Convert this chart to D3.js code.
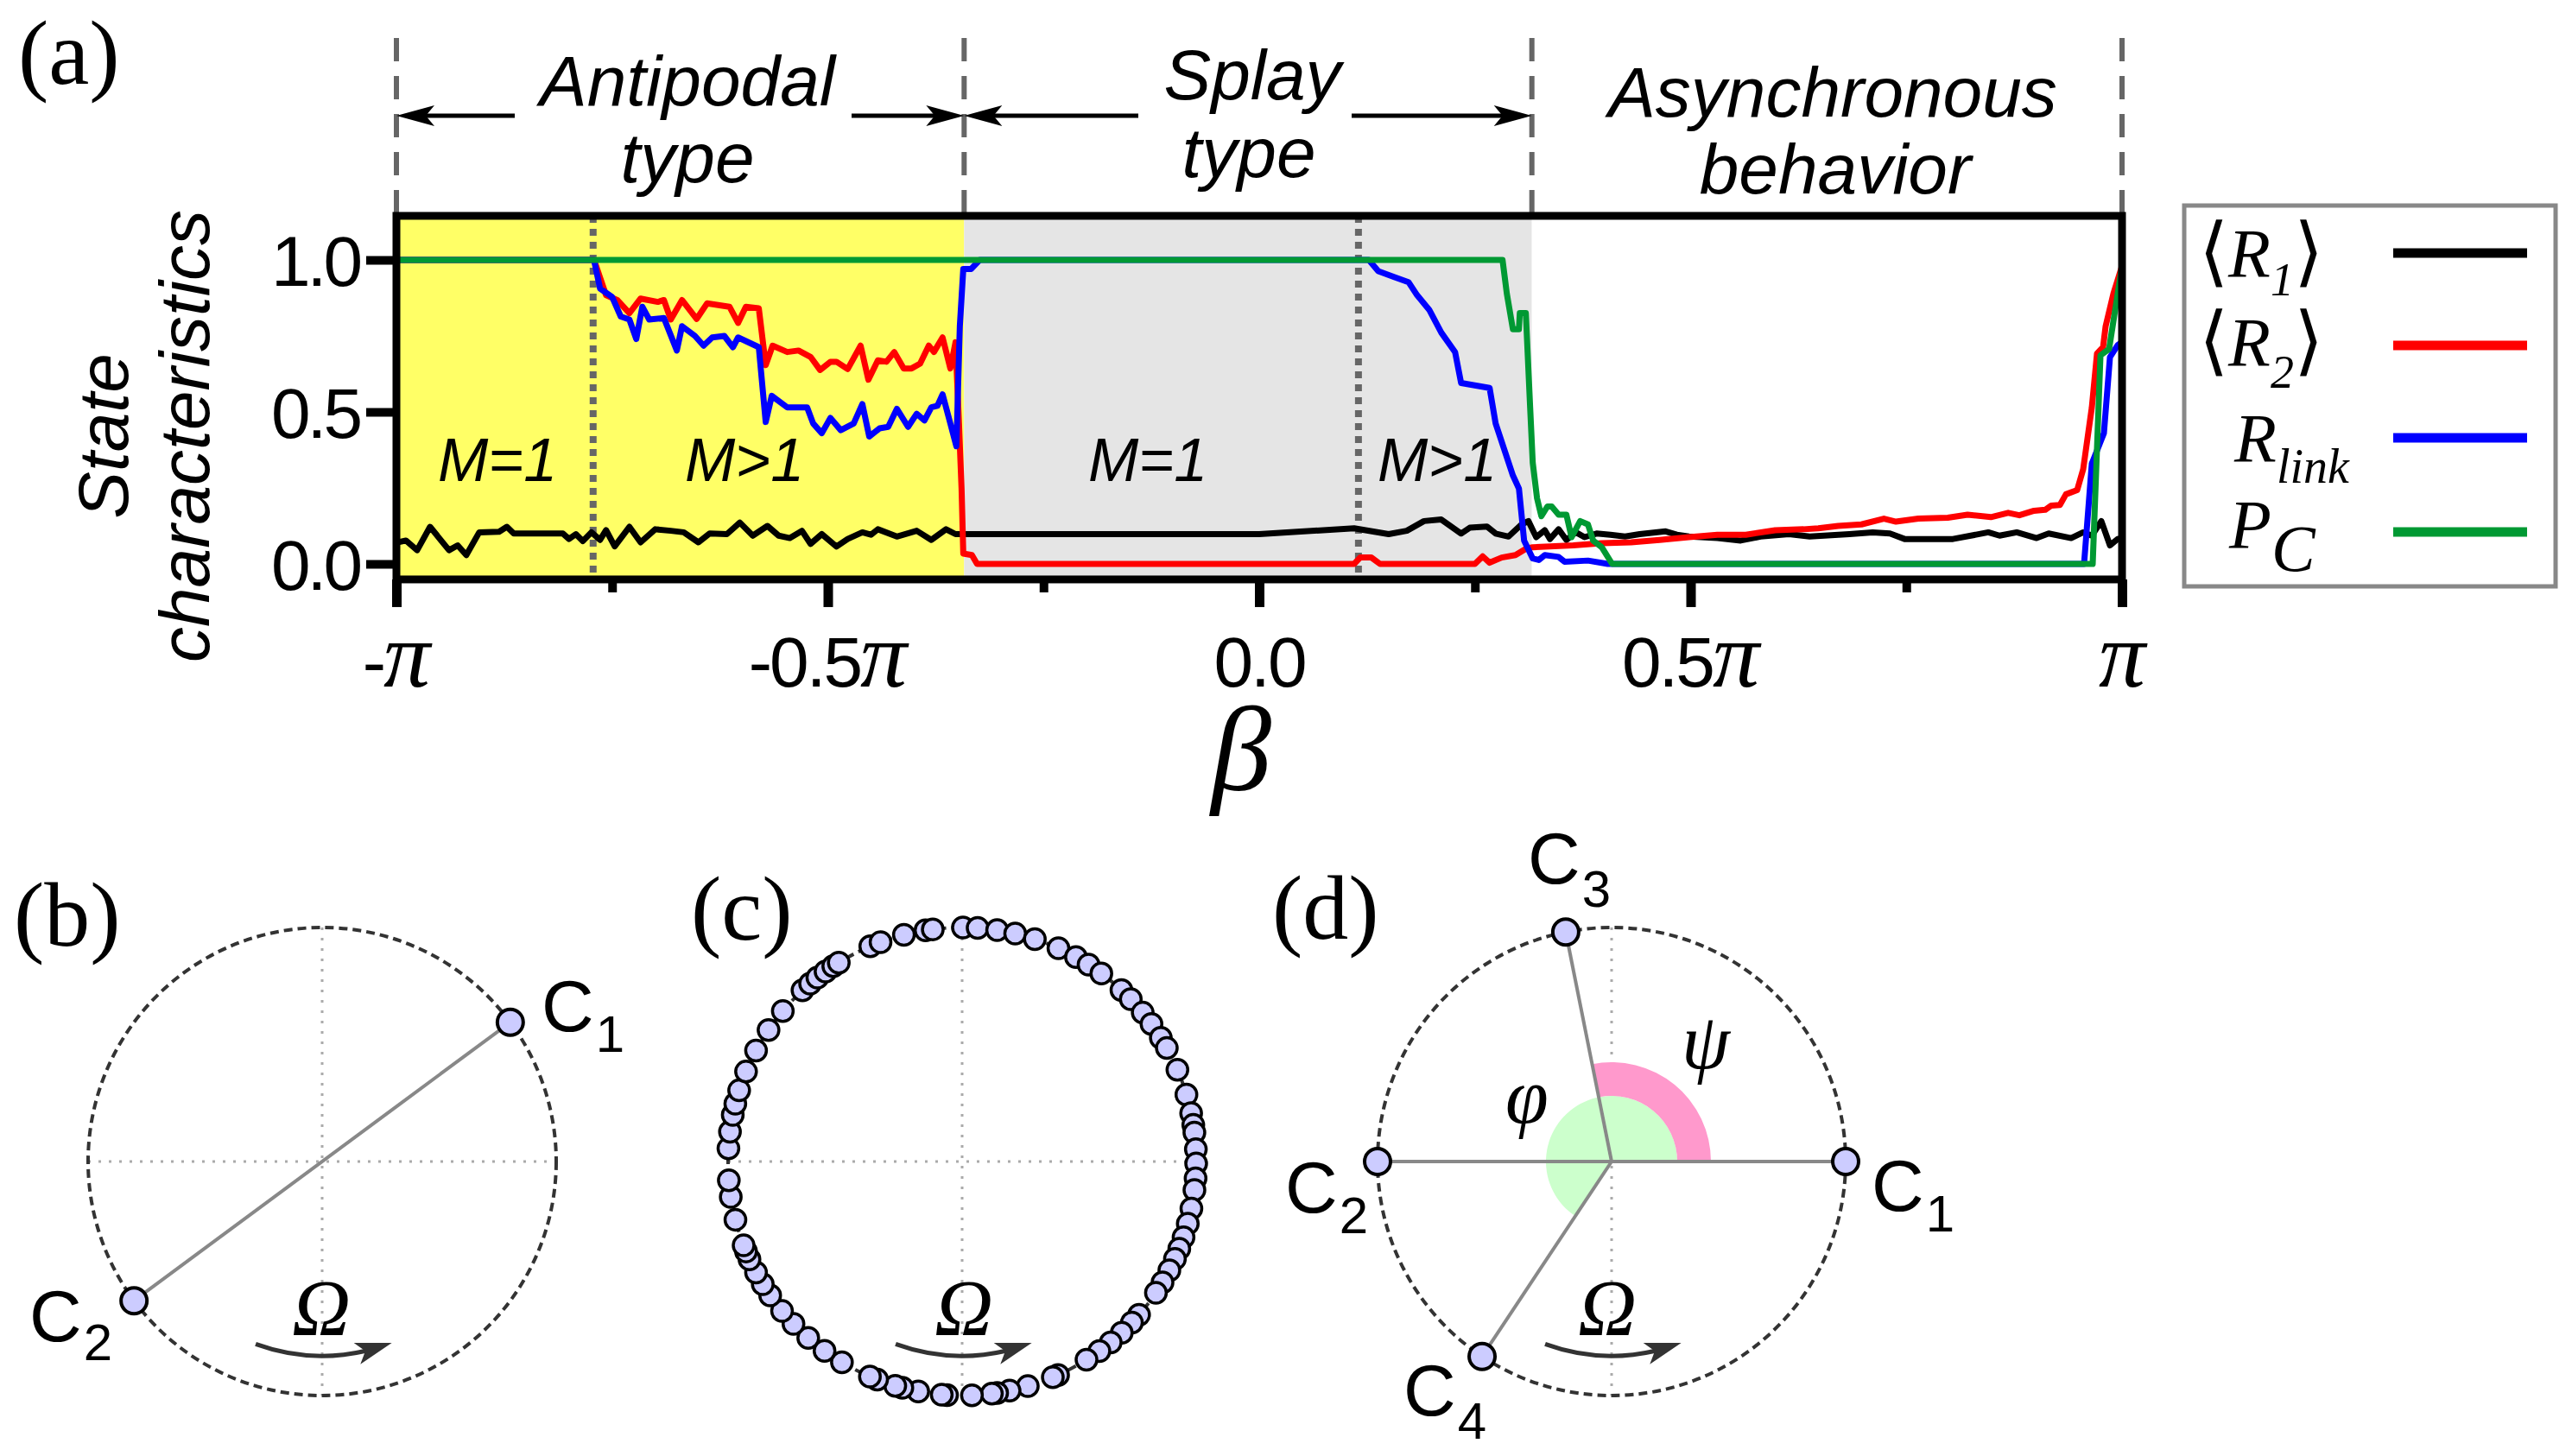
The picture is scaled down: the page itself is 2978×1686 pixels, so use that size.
<!DOCTYPE html>
<html lang="en">
<head>
<meta charset="UTF-8">
<title>State characteristics vs beta</title>
<script src="https://cdn.jsdelivr.net/npm/d3@7"></script>
<style>
  body { margin: 0; background: #fff; }
  svg { display: block; }
</style>
</head>
<body>
<script>

    // ---- data (beta in units of pi) ----
    var beta_R1 = [-1.000, -0.989, -0.976, -0.961, -0.939, -0.929, -0.919, -0.904, -0.881, -0.872, -0.864, -0.807, -0.800, -0.792, -0.784, -0.774, -0.764, -0.757, -0.747, -0.730, -0.717, -0.700, -0.682, -0.667, -0.650, -0.637, -0.617, -0.602, -0.587, -0.570, -0.557, -0.544, -0.530, -0.520, -0.507, -0.490, -0.477, -0.460, -0.450, -0.442, -0.420, -0.397, -0.380, -0.363, -0.352, 0.000, 0.110, 0.150, 0.171, 0.191, 0.211, 0.234, 0.244, 0.264, 0.274, 0.289, 0.304, 0.312, 0.321, 0.331, 0.337, 0.347, 0.356, 0.367, 0.377, 0.391, 0.407, 0.424, 0.441, 0.471, 0.484, 0.498, 0.531, 0.558, 0.581, 0.614, 0.638, 0.684, 0.711, 0.731, 0.748, 0.781, 0.804, 0.845, 0.858, 0.878, 0.901, 0.915, 0.941, 0.955, 0.965, 0.976, 0.986, 0.995, 1.000];
    var R1 = [0.070, 0.077, 0.045, 0.122, 0.045, 0.061, 0.029, 0.104, 0.106, 0.122, 0.100, 0.100, 0.082, 0.098, 0.075, 0.104, 0.079, 0.111, 0.058, 0.122, 0.071, 0.114, 0.109, 0.104, 0.071, 0.100, 0.098, 0.136, 0.093, 0.125, 0.093, 0.085, 0.109, 0.066, 0.098, 0.057, 0.082, 0.104, 0.096, 0.114, 0.090, 0.109, 0.079, 0.114, 0.098, 0.098, 0.117, 0.098, 0.109, 0.141, 0.146, 0.100, 0.119, 0.123, 0.100, 0.090, 0.130, 0.141, 0.088, 0.111, 0.082, 0.114, 0.079, 0.104, 0.088, 0.100, 0.096, 0.090, 0.098, 0.107, 0.096, 0.090, 0.085, 0.077, 0.090, 0.098, 0.090, 0.098, 0.104, 0.100, 0.082, 0.082, 0.082, 0.104, 0.093, 0.104, 0.085, 0.100, 0.085, 0.104, 0.093, 0.141, 0.061, 0.082, 0.085];

    var beta_R2 = [-1.000, -0.771, -0.757, -0.744, -0.730, -0.717, -0.697, -0.690, -0.682, -0.669, -0.652, -0.640, -0.614, -0.604, -0.595, -0.580, -0.572, -0.564, -0.547, -0.534, -0.520, -0.509, -0.497, -0.490, -0.477, -0.462, -0.453, -0.442, -0.432, -0.423, -0.412, -0.403, -0.393, -0.383, -0.377, -0.367, -0.358, -0.352, -0.348, -0.345, -0.343, -0.333, -0.327, 0.110, 0.117, 0.130, 0.140, 0.250, 0.259, 0.267, 0.281, 0.297, 0.309, 0.317, 0.364, 0.397, 0.431, 0.464, 0.498, 0.531, 0.564, 0.598, 0.631, 0.648, 0.671, 0.698, 0.724, 0.738, 0.764, 0.798, 0.821, 0.848, 0.868, 0.881, 0.898, 0.911, 0.918, 0.928, 0.935, 0.948, 0.955, 0.965, 0.971, 0.978, 0.981, 0.990, 1.000];
    var R2 = [1.000, 1.000, 0.884, 0.868, 0.825, 0.873, 0.862, 0.868, 0.804, 0.868, 0.806, 0.857, 0.846, 0.793, 0.846, 0.841, 0.654, 0.718, 0.697, 0.702, 0.681, 0.638, 0.665, 0.665, 0.641, 0.718, 0.606, 0.670, 0.665, 0.697, 0.643, 0.643, 0.659, 0.718, 0.697, 0.745, 0.643, 0.729, 0.462, 0.248, 0.034, 0.029, 0.000, 0.000, 0.021, 0.021, 0.000, 0.000, 0.025, 0.004, 0.021, 0.029, 0.050, 0.055, 0.061, 0.068, 0.071, 0.079, 0.088, 0.096, 0.096, 0.111, 0.114, 0.117, 0.125, 0.130, 0.149, 0.139, 0.149, 0.152, 0.162, 0.154, 0.168, 0.160, 0.175, 0.178, 0.192, 0.194, 0.229, 0.243, 0.312, 0.515, 0.692, 0.713, 0.782, 0.889, 0.980];

    var beta_Rlink = [-1.000, -0.771, -0.764, -0.750, -0.740, -0.730, -0.722, -0.715, -0.707, -0.690, -0.675, -0.669, -0.654, -0.644, -0.634, -0.620, -0.610, -0.604, -0.580, -0.572, -0.565, -0.547, -0.524, -0.517, -0.507, -0.497, -0.485, -0.470, -0.460, -0.452, -0.440, -0.430, -0.420, -0.407, -0.397, -0.388, -0.380, -0.373, -0.367, -0.358, -0.351, -0.347, -0.343, -0.334, -0.324, 0.127, 0.138, 0.157, 0.173, 0.183, 0.197, 0.211, 0.227, 0.234, 0.267, 0.274, 0.294, 0.301, 0.307, 0.317, 0.324, 0.331, 0.347, 0.354, 0.381, 0.404, 0.956, 0.965, 0.979, 0.986, 0.995, 1.000];
    var Rlink = [1.000, 1.000, 0.906, 0.878, 0.814, 0.804, 0.740, 0.846, 0.804, 0.809, 0.702, 0.782, 0.750, 0.718, 0.745, 0.750, 0.713, 0.745, 0.713, 0.467, 0.553, 0.515, 0.515, 0.462, 0.430, 0.480, 0.440, 0.462, 0.526, 0.419, 0.446, 0.451, 0.510, 0.451, 0.494, 0.472, 0.515, 0.520, 0.558, 0.462, 0.387, 0.782, 0.970, 0.970, 1.000, 1.000, 0.963, 0.943, 0.927, 0.884, 0.836, 0.761, 0.697, 0.595, 0.579, 0.462, 0.291, 0.248, 0.077, 0.018, 0.013, 0.029, 0.023, 0.007, 0.011, 0.000, 0.000, 0.330, 0.430, 0.680, 0.720, 0.730];

    var beta_PC = [-1.000, 0.282, 0.287, 0.294, 0.301, 0.302, 0.309, 0.314, 0.317, 0.322, 0.327, 0.334, 0.339, 0.347, 0.356, 0.362, 0.372, 0.381, 0.387, 0.397, 0.409, 0.966, 0.975, 0.985, 0.995, 1.000];
    var PC = [1.000, 1.000, 0.889, 0.772, 0.772, 0.825, 0.825, 0.515, 0.333, 0.216, 0.157, 0.189, 0.189, 0.162, 0.162, 0.088, 0.141, 0.130, 0.077, 0.055, 0.000, 0.000, 0.686, 0.707, 0.889, 0.980];

    var xMajor = [-1, -0.5, 0, 0.5, 1];
    var xMinor = [-0.75, -0.25, 0.25, 0.75];
    var xTickLabels = ["-π", "-0.5π", "0.0", "0.5π", "π"];
    var yTicks = [0, 0.5, 1];

    var regionEdges = [-1, -0.342, 0.316, 1];        // antipodal | splay | asynchronous
    var subEdges = [-0.772, 0.115];                   // M=1 / M>1 borders

    // phases of clusters (degrees, counter-clockwise from +x)
    var phases_b = [36.5, 216.5];
    var phases_c = [113.1, 110.4, 104.4, 99.0, 97.2, 89.8, 86.2, 81.4, 76.9, 71.9, 65.7, 60.9, 57.3, 53.5, 47.1, 43.9, 39.5, 36.0, 31.9, 29.0, 23.1, 16.6, 11.9, 9.0, 7.1, 3.0, -0.5, -4.1, -7.0, -11.6, -15.4, -18.9, -21.9, -24.6, -27.7, -31.1, -34.1, -40.9, -43.5, -47.0, -50.6, -54.1, -57.9, -65.8, -67.2, -73.7, -78.3, -81.4, -82.7, -87.6, -93.7, -95.0, -100.8, -104.8, -106.6, -111.3, -113.2, -120.9, -126.0, -131.1, -136.1, -140.3, -145.1, -148.4, -151.7, -155.3, -157.4, -159.0, -165.6, -171.3, -175.4, 176.8, 172.7, 168.5, 165.7, 162.3, 157.4, 151.7, 145.8, 140.0, 133.0, 130.5, 128.2, 125.7, 123.4, 121.8];
    var phases_d = [0, 180, 101.3, 236.4];   // C1, C2, C3, C4

    var SANS = '"Liberation Sans", Arial, Helvetica, sans-serif';
    var SERIF = '"Liberation Serif", "Times New Roman", Times, serif';

    var mysvg = d3.select("body").append("svg").attr("width", 2978).attr("height", 1686);

    var x = d3.scaleLinear().domain([-1, 1]).range([459, 2457]);
    var y = d3.scaleLinear().domain([0, 1]).range([653, 301]);
    var yTop = y(1.145), yBot = y(-0.051);

    function txt(g, str, xx, yy, size, fam, opts) {
        opts = opts || {};
        return g.append("text").attr("x", xx).attr("y", yy)
            .attr("font-family", fam).attr("font-size", size)
            .attr("font-style", opts.italic ? "italic" : "normal")
            .attr("text-anchor", opts.anchor || "start")
            .attr("fill", "#000")
            .text(str);
    }

    //背景区域
    var bgColors = ["#ffff66", "#e5e5e5", "#ffffff"];
    mysvg.selectAll("rect.region").data(d3.pairs(regionEdges)).enter().append("rect")
        .attr("class", "region")
        .attr("x", function (d) { return x(d[0]); })
        .attr("width", function (d) { return x(d[1]) - x(d[0]); })
        .attr("y", yTop).attr("height", yBot - yTop)
        .attr("fill", function (d, i) { return bgColors[i]; });

    // dotted M borders
    mysvg.selectAll("line.sub").data(subEdges).enter().append("line")
        .attr("x1", function (d) { return x(d); }).attr("x2", function (d) { return x(d); })
        .attr("y1", yTop).attr("y2", yBot)
        .attr("stroke", "#666").attr("stroke-width", 8).attr("stroke-dasharray", "8,7");

    // dashed region borders above plot
    mysvg.selectAll("line.reg").data(regionEdges).enter().append("line")
        .attr("x1", function (d) { return x(d); }).attr("x2", function (d) { return x(d); })
        .attr("y1", 44).attr("y2", yTop)
        .attr("stroke", "#666").attr("stroke-width", 6).attr("stroke-dasharray", "27,17");

    // region arrows
    var arrowY = 134;
    function arrow(xFrom, xTip) {
        var dir = xTip < xFrom ? 1 : -1;
        mysvg.append("line").attr("x1", xFrom).attr("x2", xTip + dir * 30)
            .attr("y1", arrowY).attr("y2", arrowY).attr("stroke", "#000").attr("stroke-width", 5);
        mysvg.append("path").attr("d", "M0,0L44,-12L34,0L44,12Z")
            .attr("transform", "translate(" + xTip + "," + arrowY + ") scale(" + dir + ",1)")
            .attr("fill", "#000");
    }
    arrow(596, x(regionEdges[0]));
    arrow(986, x(regionEdges[1]));
    arrow(1318, x(regionEdges[1]));
    arrow(1565, x(regionEdges[2]));

    txt(mysvg, "Antipodal", 796, 122, 82, SANS, {italic: true, anchor: "middle"});
    txt(mysvg, "type", 796, 211, 82, SANS, {italic: true, anchor: "middle"});
    txt(mysvg, "Splay", 1450, 115, 82, SANS, {italic: true, anchor: "middle"});
    txt(mysvg, "type", 1446, 205, 82, SANS, {italic: true, anchor: "middle"});
    txt(mysvg, "Asynchronous", 2122, 135, 82, SANS, {italic: true, anchor: "middle"});
    txt(mysvg, "behavior", 2125, 224, 82, SANS, {italic: true, anchor: "middle"});

    // M labels
    var mLabels = ["M=1", "M>1", "M=1", "M>1"];
    var mX = [576, 862, 1329, 1664];
    mLabels.forEach(function (s, i) { txt(mysvg, s, mX[i], 557, 70, SANS, {italic: true, anchor: "middle"}); });

    // curves
    var line = d3.line().x(function (d) { return x(d[0]); }).y(function (d) { return y(d[1]); });
    var series = [[beta_R1, R1, "#000000"], [beta_R2, R2, "#ff0000"], [beta_Rlink, Rlink, "#0000ff"], [beta_PC, PC, "#009933"]];
    mysvg.selectAll("path.curve").data(series).enter().append("path")
        .attr("class", "curve")
        .attr("d", function (d) { return line(d3.zip(d[0], d[1])); })
        .attr("fill", "none")
        .attr("stroke", function (d) { return d[2]; })
        .attr("stroke-width", 7)
        .attr("stroke-linejoin", "round");

    // frame
    mysvg.append("rect").attr("x", x(-1)).attr("y", yTop)
        .attr("width", x(1) - x(-1)).attr("height", yBot - yTop)
        .attr("fill", "none").attr("stroke", "#000").attr("stroke-width", 9);

    // x axis ticks
    var gx = mysvg.append("g").attr("transform", "translate(0," + yBot + ")")
        .call(d3.axisBottom(x).tickValues(xMajor).tickSize(32).tickFormat(""));
    gx.select(".domain").remove();
    gx.selectAll("line").attr("stroke-width", 11);
    var gxm = mysvg.append("g").attr("transform", "translate(0," + yBot + ")")
        .call(d3.axisBottom(x).tickValues(xMinor).tickSize(15).tickFormat(""));
    gxm.select(".domain").remove();
    gxm.selectAll("line").attr("stroke-width", 10);

    // x tick labels (number in sans, pi in serif italic)
    xTickLabels.forEach(function (s, i) {
        var parts = s.split("π");
        var t = mysvg.append("text").attr("x", x(xMajor[i])).attr("y", 795)
            .attr("text-anchor", "middle").attr("fill", "#000");
        t.append("tspan").attr("font-family", SANS).attr("font-size", 82)
            .attr("letter-spacing", -3).text(parts[0]);
        if (parts.length > 1) {
            t.append("tspan").attr("font-family", SERIF).attr("font-style", "italic")
                .attr("font-size", 108).text("π");
        }
    });

    // y axis
    var gy = mysvg.append("g").attr("transform", "translate(" + x(-1) + ",0)")
        .call(d3.axisLeft(y).tickValues(yTicks).tickSize(35).tickPadding(8).tickFormat(d3.format(".1f")));
    gy.select(".domain").remove();
    gy.selectAll("line").attr("stroke-width", 10);
    gy.selectAll("text").attr("font-family", SANS).attr("font-size", 82).attr("letter-spacing", -4)
        .attr("fill", "#000").attr("dy", "0.36em");

    // axis titles
    txt(mysvg, "State", 0, 0, 82, SANS, {italic: true, anchor: "middle"}).attr("transform", "translate(148,505) rotate(-90)");
    txt(mysvg, "characteristics", 0, 0, 82, SANS, {italic: true, anchor: "middle"}).attr("transform", "translate(242,505) rotate(-90)");
    txt(mysvg, "β", 1437, 915, 140, SERIF, {italic: true, anchor: "middle"});

    txt(mysvg, "(a)", 21, 97, 106, SERIF);

    // legend
    mysvg.append("rect").attr("x", 2529).attr("y", 238).attr("width", 430).attr("height", 441)
        .attr("fill", "#fff").attr("stroke", "#888").attr("stroke-width", 5);
    var legY = [293, 400, 507, 616];
    var legColors = ["#000000", "#ff0000", "#0000ff", "#009933"];
    mysvg.selectAll("line.leg").data(legY).enter().append("line")
        .attr("x1", 2771).attr("x2", 2926)
        .attr("y1", function (d) { return d; }).attr("y2", function (d) { return d; })
        .attr("stroke", function (d, i) { return legColors[i]; }).attr("stroke-width", 11);

    function legLabel(xx, yy, main, sub, subSize, subDy, brackets) {
        var t = mysvg.append("text").attr("x", xx).attr("y", yy)
            .attr("font-family", SERIF).attr("font-size", 80).attr("fill", "#000");
        if (brackets) t.append("tspan").attr("font-size", 88).text("⟨");
        t.append("tspan").attr("font-style", "italic").text(main);
        t.append("tspan").attr("font-style", "italic").attr("font-size", subSize).attr("dy", subDy).text(sub);
        if (brackets) t.append("tspan").attr("font-size", 88).attr("dy", -subDy).text("⟩");
    }
    legLabel(2546, 321, "R", "1", 54, 21, true);
    legLabel(2546, 424, "R", "2", 54, 25, true);
    legLabel(2587, 535, "R", "link", 56, 24, false);
    legLabel(2581, 635, "P", "C", 76, 26, false);

    // ---- phase portraits ----
    var angle = d3.scaleLinear().domain([0, 360]).range([Math.PI / 2, Math.PI / 2 - 2 * Math.PI]);
    var R = 271, CY = 1345;

    function portrait(cx) {
        var g = mysvg.append("g").attr("transform", "translate(" + cx + "," + CY + ")");
        g.append("line").attr("x1", -R).attr("x2", R).attr("y1", 0).attr("y2", 0)
            .attr("stroke", "#aaa").attr("stroke-width", 3).attr("stroke-dasharray", "3,9");
        g.append("line").attr("x1", 0).attr("x2", 0).attr("y1", -R).attr("y2", R)
            .attr("stroke", "#aaa").attr("stroke-width", 3).attr("stroke-dasharray", "3,9");
        g.append("circle").attr("r", R).attr("fill", "none")
            .attr("stroke", "#333").attr("stroke-width", 4).attr("stroke-dasharray", "10,6");
        return g;
    }

    function omega(g, ox) {
        var r = 225, d2r = Math.PI / 180;
        var p = d3.path();
        p.arc(0, 0, r, 110 * d2r, 77 * d2r, true);
        g.append("path").attr("d", p.toString()).attr("fill", "none")
            .attr("stroke", "#333").attr("stroke-width", 5);
        var a = 69 * d2r;
        var tx = r * Math.cos(a), ty = r * Math.sin(a);
        var rot = Math.atan2(-Math.cos(a + 0.07), Math.sin(a + 0.07)) / d2r;
        g.append("path").attr("d", "M0,0L-42,-13L-32,0L-42,13Z")
            .attr("transform", "translate(" + tx + "," + ty + ") rotate(" + rot + ")")
            .attr("fill", "#333");
        txt(g, "Ω", ox, 201, 94, SERIF, {italic: true, anchor: "middle"});
    }

    function dots(g, phases, rr, sw) {
        g.selectAll("circle.osc").data(phases).enter().append("circle")
            .attr("class", "osc")
            .attr("cx", function (d) { return d3.pointRadial(angle(d), R)[0]; })
            .attr("cy", function (d) { return d3.pointRadial(angle(d), R)[1]; })
            .attr("r", rr).attr("fill", "#ccccff").attr("stroke", "#000").attr("stroke-width", sw);
    }

    function cLabel(xx, yy, k, subDy) {
        var t = mysvg.append("text").attr("x", xx).attr("y", yy)
            .attr("font-family", SANS).attr("font-size", 84).attr("fill", "#000");
        t.append("tspan").text("C");
        t.append("tspan").attr("font-size", 60).attr("dy", subDy).attr("dx", 2).text(k);
    }

    // (b)
    var gb = portrait(373);
    var pb = phases_b.map(function (d) { return d3.pointRadial(angle(d), R); });
    gb.append("line").attr("x1", pb[0][0]).attr("y1", pb[0][1]).attr("x2", pb[1][0]).attr("y2", pb[1][1])
        .attr("stroke", "#888").attr("stroke-width", 4);
    omega(gb, -1);
    dots(gb, phases_b, 15, 4);
    cLabel(627, 1194, "1", 24);
    cLabel(34, 1553, "2", 22);
    txt(mysvg, "(b)", 16, 1095, 106, SERIF);

    // (c)
    var gc = portrait(1114);
    omega(gc, 2);
    dots(gc, phases_c, 12, 3.5);
    txt(mysvg, "(c)", 800, 1088, 106, SERIF);

    // (d)
    var gd = portrait(1866);
    gd.append("path").attr("d", d3.arc().innerRadius(0).outerRadius(76)
        .startAngle(angle(phases_d[3])).endAngle(angle(phases_d[0]))()).attr("fill", "#ccffcc");
    gd.append("path").attr("d", d3.arc().innerRadius(76).outerRadius(115)
        .startAngle(angle(phases_d[2])).endAngle(angle(phases_d[0]))()).attr("fill", "#ff99cc");
    gd.selectAll("line.link").data(phases_d).enter().append("line")
        .attr("x1", 0).attr("y1", 0)
        .attr("x2", function (d) { return d3.pointRadial(angle(d), R)[0]; })
        .attr("y2", function (d) { return d3.pointRadial(angle(d), R)[1]; })
        .attr("stroke", "#888").attr("stroke-width", 4);
    omega(gd, -5);
    dots(gd, phases_d, 15, 4);
    cLabel(2167, 1402, "1", 24);
    cLabel(1488, 1404, "2", 24);
    cLabel(1769, 1023, "3", 27);
    cLabel(1625, 1639, "4", 27);
    txt(mysvg, "φ", 1768, 1300, 90, SERIF, {italic: true, anchor: "middle"});
    txt(mysvg, "ψ", 1975, 1237, 90, SERIF, {italic: true, anchor: "middle"});
    txt(mysvg, "(d)", 1473, 1087, 106, SERIF);

</script>
</body>
</html>
